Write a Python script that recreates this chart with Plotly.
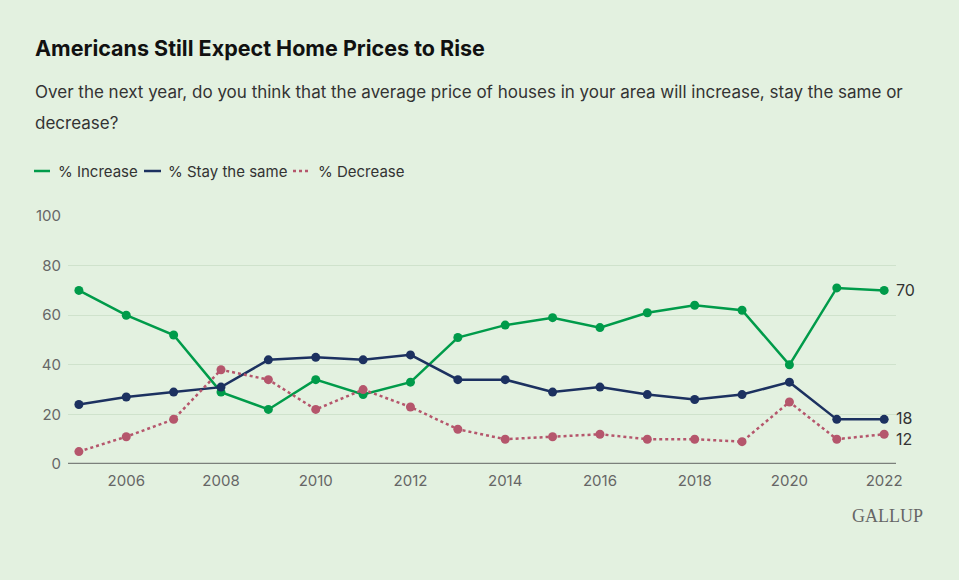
import plotly.graph_objects as go

years = list(range(2005, 2023))
increase = [70, 60, 52, 29, 22, 34, 28, 33, 51, 56, 59, 55, 61, 64, 62, 40, 71, 70]
stay_same = [24, 27, 29, 31, 42, 43, 42, 44, 34, 34, 29, 31, 28, 26, 28, 33, 18, 18]
decrease = [5, 11, 18, 38, 34, 22, 30, 23, 14, 10, 11, 12, 10, 10, 9, 25, 10, 12]
series_names = ["% Increase", "% Stay the same", "% Decrease"]
x_ticks = [2006, 2008, 2010, 2012, 2014, 2016, 2018, 2020, 2022]
y_ticks = [0, 20, 40, 60, 80, 100]

GREEN = "#009b4a"
NAVY = "#1c3160"
ROSE = "#b5566c"
BG = "#e3f1e0"
FONT = "Inter"

W, H = 959, 580
L, R, T, B = 68, 63, 216, 116
PW = W - L - R
PH = H - T - B

def px(xp):
    return (xp - L) / PW

def py(yp):
    return (H - B - yp) / PH

fig = go.Figure()
for vals, name, color, dash in [
    (increase, series_names[0], GREEN, "solid"),
    (stay_same, series_names[1], NAVY, "solid"),
    (decrease, series_names[2], ROSE, "dot"),
]:
    fig.add_trace(go.Scatter(
        x=years, y=vals, name=name, mode="lines+markers",
        line=dict(color=color, width=2.5, dash=dash),
        marker=dict(color=color, size=9),
        showlegend=False, cliponaxis=False,
    ))

# end labels
for vals, yshift in [(increase, 0), (stay_same, 1), (decrease, -5)]:
    fig.add_annotation(x=years[-1], y=vals[-1], text=str(vals[-1]), showarrow=False,
                       xanchor="left", xshift=10, yshift=yshift,
                       font=dict(family=FONT, size=16, color="#333333"))

# custom legend
leg_y = py(171)
items = [
    (series_names[0], GREEN, "solid", 34, 50, 56),
    (series_names[1], NAVY, "solid", 144, 161, 166),
    (series_names[2], ROSE, "dot", 293, 311, 316),
]
for name, color, dash, x0, x1, xt in items:
    fig.add_shape(type="line", xref="paper", yref="paper", x0=px(x0), x1=px(x1),
                  y0=leg_y, y1=leg_y, line=dict(color=color, width=2.5, dash=dash))
    fig.add_annotation(xref="paper", yref="paper", x=px(xt), y=leg_y, text=name,
                       showarrow=False, xanchor="left", yanchor="middle",
                       font=dict(family=FONT, size=15, color="#333333"))

# title & subtitle
fig.add_annotation(xref="paper", yref="paper", x=px(33), y=py(48),
                   text="<b>Americans Still Expect Home Prices to Rise</b>",
                   showarrow=False, xanchor="left", yanchor="middle",
                   font=dict(family=FONT, size=21.5, color="#111111"))
fig.add_annotation(xref="paper", yref="paper", x=px(33), y=py(92),
                   text="Over the next year, do you think that the average price of houses in your area will increase, stay the same or",
                   showarrow=False, xanchor="left", yanchor="middle",
                   font=dict(family=FONT, size=17, color="#333333"))
fig.add_annotation(xref="paper", yref="paper", x=px(33), y=py(123),
                   text="decrease?",
                   showarrow=False, xanchor="left", yanchor="middle",
                   font=dict(family=FONT, size=17, color="#333333"))
fig.add_annotation(xref="paper", yref="paper", x=px(925), y=py(516),
                   text="GALLUP", showarrow=False, xanchor="right", yanchor="middle",
                   font=dict(family="Liberation Serif", size=18, color="#666666"))

fig.update_layout(
    width=W, height=H,
    margin=dict(l=L, r=R, t=T, b=B),
    paper_bgcolor=BG, plot_bgcolor=BG,
    showlegend=False,
    font=dict(family=FONT),
    xaxis=dict(range=[2004.77, 2022.25], tickvals=x_ticks, showgrid=False,
               showline=False, zeroline=False, ticks="", ticklabelstandoff=6,
               tickfont=dict(family=FONT, size=15, color="#666666")),
    yaxis=dict(range=[0, 100], tickvals=y_ticks, showgrid=True, gridcolor="#cfe2cc",
               gridwidth=1, zeroline=False, showline=False, ticks="",
               ticklabelstandoff=6,
               tickfont=dict(family=FONT, size=15, color="#666666")),
)
fig.add_shape(type="line", xref="paper", yref="y", x0=0, x1=1, y0=0, y1=0,
              line=dict(color="#7b807b", width=2.5), layer="above")

fig.write_html(
    "out.html",
    config={"displayModeBar": False},
    post_script="document.body.style.margin='0';document.body.style.background='" + BG + "';",
)
